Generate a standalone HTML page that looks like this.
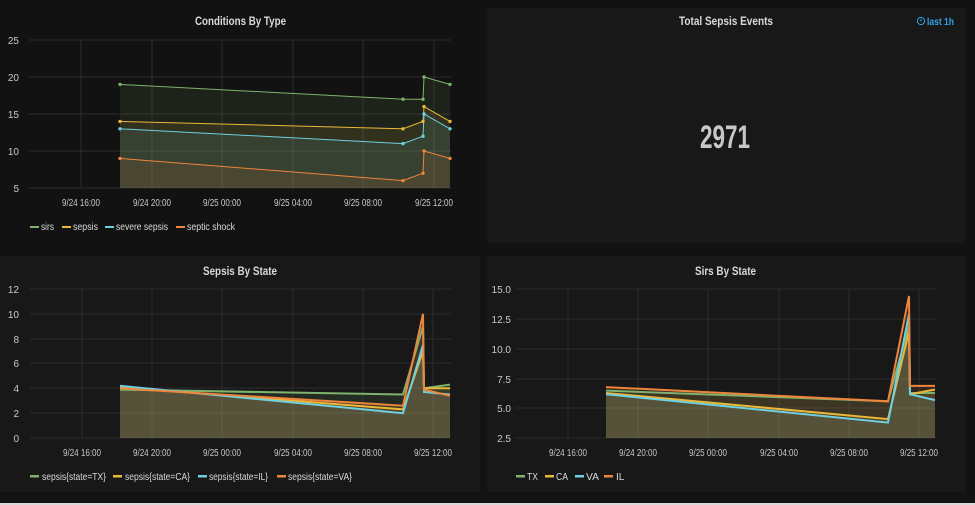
<!DOCTYPE html>
<html><head><meta charset="utf-8"><style>
html,body{margin:0;padding:0;background:#121212;}
svg{display:block;font-family:"Liberation Sans",sans-serif;}
</style></head><body>
<svg width="975" height="505" viewBox="0 0 975 505" xmlns="http://www.w3.org/2000/svg">
<rect width="975" height="505" fill="#121212"/>
<rect x="0" y="503" width="975" height="2" fill="#d8d8d8"/>
<rect x="487" y="8" width="479" height="235" fill="#181818"/>
<rect x="0" y="256" width="480" height="236" fill="#181818"/>
<rect x="487" y="256" width="479" height="236" fill="#181818"/>

<!-- Panel 1 -->
<text x="195" y="25" fill="#d8d9da" font-size="12" font-weight="bold" textLength="91" lengthAdjust="spacingAndGlyphs">Conditions By Type</text>
<g stroke="#2c2c2c" stroke-width="1">
<line x1="29" y1="40" x2="451" y2="40"/><line x1="29" y1="77" x2="451" y2="77"/><line x1="29" y1="114" x2="451" y2="114"/><line x1="29" y1="151" x2="451" y2="151"/><line x1="29" y1="188" x2="451" y2="188"/>
<line x1="81" y1="40" x2="81" y2="188"/><line x1="152" y1="40" x2="152" y2="188"/><line x1="222" y1="40" x2="222" y2="188"/><line x1="293" y1="40" x2="293" y2="188"/><line x1="363" y1="40" x2="363" y2="188"/><line x1="434" y1="40" x2="434" y2="188"/>
</g>
<g fill="#c8c8c8" font-size="10" text-anchor="end">
<text x="19" y="44">25</text><text x="19" y="81">20</text><text x="19" y="118">15</text><text x="19" y="155">10</text><text x="19" y="192">5</text>
</g>
<g fill="#c8c8c8" font-size="10">
<text x="62" y="206" textLength="38" lengthAdjust="spacingAndGlyphs">9/24 16:00</text><text x="133" y="206" textLength="38" lengthAdjust="spacingAndGlyphs">9/24 20:00</text><text x="203" y="206" textLength="38" lengthAdjust="spacingAndGlyphs">9/25 00:00</text><text x="274" y="206" textLength="38" lengthAdjust="spacingAndGlyphs">9/25 04:00</text><text x="344" y="206" textLength="38" lengthAdjust="spacingAndGlyphs">9/25 08:00</text><text x="415" y="206" textLength="38" lengthAdjust="spacingAndGlyphs">9/25 12:00</text>
</g>
<g fill-opacity="0.1">
<polygon fill="#7eb26d" points="120,188 120,84.4 403,99.2 423,99.2 424,77 450,84.4 450,188"/>
<polygon fill="#eab839" points="120,188 120,121.4 403,128.8 423,121.4 424,106.6 450,121.4 450,188"/>
<polygon fill="#6ed0e0" points="120,188 120,128.8 403,143.6 423,136.2 424,114 450,128.8 450,188"/>
<polygon fill="#ef843c" points="120,188 120,158.4 403,180.6 423,173.2 424,151 450,158.4 450,188"/>
</g>
<g fill="none" stroke-width="1">
<polyline stroke="#7eb26d" points="120,84.4 403,99.2 423,99.2 424,77 450,84.4"/>
<polyline stroke="#eab839" points="120,121.4 403,128.8 423,121.4 424,106.6 450,121.4"/>
<polyline stroke="#6ed0e0" points="120,128.8 403,143.6 423,136.2 424,114 450,128.8"/>
<polyline stroke="#ef843c" points="120,158.4 403,180.6 423,173.2 424,151 450,158.4"/>
</g>
<g>
<g fill="#7eb26d"><circle cx="120" cy="84.4" r="1.7"/><circle cx="403" cy="99.2" r="1.7"/><circle cx="423" cy="99.2" r="1.7"/><circle cx="424" cy="77" r="1.7"/><circle cx="450" cy="84.4" r="1.7"/></g>
<g fill="#eab839"><circle cx="120" cy="121.4" r="1.7"/><circle cx="403" cy="128.8" r="1.7"/><circle cx="423" cy="121.4" r="1.7"/><circle cx="424" cy="106.6" r="1.7"/><circle cx="450" cy="121.4" r="1.7"/></g>
<g fill="#6ed0e0"><circle cx="120" cy="128.8" r="1.7"/><circle cx="403" cy="143.6" r="1.7"/><circle cx="423" cy="136.2" r="1.7"/><circle cx="424" cy="114" r="1.7"/><circle cx="450" cy="128.8" r="1.7"/></g>
<g fill="#ef843c"><circle cx="120" cy="158.4" r="1.7"/><circle cx="403" cy="180.6" r="1.7"/><circle cx="423" cy="173.2" r="1.7"/><circle cx="424" cy="151" r="1.7"/><circle cx="450" cy="158.4" r="1.7"/></g>
</g>
<g font-size="10" fill="#d8d9da">
<rect x="30" y="226" width="9" height="2" fill="#7eb26d"/><text x="41" y="230" textLength="13" lengthAdjust="spacingAndGlyphs">sirs</text>
<rect x="62" y="226" width="9" height="2" fill="#eab839"/><text x="73" y="230" textLength="25" lengthAdjust="spacingAndGlyphs">sepsis</text>
<rect x="105" y="226" width="9" height="2" fill="#6ed0e0"/><text x="116" y="230" textLength="52" lengthAdjust="spacingAndGlyphs">severe sepsis</text>
<rect x="176" y="226" width="9" height="2" fill="#ef843c"/><text x="187" y="230" textLength="48" lengthAdjust="spacingAndGlyphs">septic shock</text>
</g>

<!-- Panel 2 -->
<text x="679" y="25" fill="#d8d9da" font-size="12" font-weight="bold" textLength="94" lengthAdjust="spacingAndGlyphs">Total Sepsis Events</text>
<g fill="#33a2e5" font-size="10" font-weight="bold">
<circle cx="921" cy="21" r="3.6" fill="none" stroke="#33a2e5" stroke-width="1"/>
<line x1="921" y1="19" x2="921" y2="21.5" stroke="#33a2e5" stroke-width="1"/>
<text x="927" y="25" textLength="27" lengthAdjust="spacingAndGlyphs">last 1h</text>
</g>
<text x="700" y="148" fill="#c7c8c9" font-size="32" font-weight="bold" textLength="50" lengthAdjust="spacingAndGlyphs">2971</text>

<!-- Panel 3 -->
<text x="203" y="275" fill="#d8d9da" font-size="12" font-weight="bold" textLength="74" lengthAdjust="spacingAndGlyphs">Sepsis By State</text>
<g stroke="#2c2c2c" stroke-width="1">
<line x1="30" y1="289" x2="451" y2="289"/><line x1="30" y1="314" x2="451" y2="314"/><line x1="30" y1="339" x2="451" y2="339"/><line x1="30" y1="363" x2="451" y2="363"/><line x1="30" y1="388" x2="451" y2="388"/><line x1="30" y1="413" x2="451" y2="413"/><line x1="30" y1="438" x2="451" y2="438"/>
<line x1="82" y1="289" x2="82" y2="438"/><line x1="152" y1="289" x2="152" y2="438"/><line x1="222" y1="289" x2="222" y2="438"/><line x1="293" y1="289" x2="293" y2="438"/><line x1="363" y1="289" x2="363" y2="438"/><line x1="433" y1="289" x2="433" y2="438"/>
</g>
<g fill="#c8c8c8" font-size="10" text-anchor="end">
<text x="19" y="293">12</text><text x="19" y="318">10</text><text x="19" y="343">8</text><text x="19" y="367">6</text><text x="19" y="392">4</text><text x="19" y="417">2</text><text x="19" y="442">0</text>
</g>
<g fill="#c8c8c8" font-size="10">
<text x="63" y="456" textLength="38" lengthAdjust="spacingAndGlyphs">9/24 16:00</text><text x="133" y="456" textLength="38" lengthAdjust="spacingAndGlyphs">9/24 20:00</text><text x="203" y="456" textLength="38" lengthAdjust="spacingAndGlyphs">9/25 00:00</text><text x="274" y="456" textLength="38" lengthAdjust="spacingAndGlyphs">9/25 04:00</text><text x="344" y="456" textLength="38" lengthAdjust="spacingAndGlyphs">9/25 08:00</text><text x="414" y="456" textLength="38" lengthAdjust="spacingAndGlyphs">9/25 12:00</text>
</g>
<g fill-opacity="0.12">
<polygon fill="#7eb26d" points="120,438 120,389.6 403,394.5 423,326.2 424,388.3 450,384.6 450,438"/>
<polygon fill="#eab839" points="120,438 120,387.1 403,409.4 423,351.1 424,388.3 450,388.3 450,438"/>
<polygon fill="#6ed0e0" points="120,438 120,385.8 403,413.2 423,344.9 424,392 450,394.5 450,438"/>
<polygon fill="#ef843c" points="120,438 120,388.3 403,405.7 423,313.8 424,389.6 450,395.8 450,438"/>
</g>
<g fill="none" stroke-width="2">
<polyline stroke="#7eb26d" points="120,389.6 403,394.5 423,326.2 424,388.3 450,384.6"/>
<polyline stroke="#eab839" points="120,387.1 403,409.4 423,351.1 424,388.3 450,388.3"/>
<polyline stroke="#6ed0e0" points="120,385.8 403,413.2 423,344.9 424,392 450,394.5"/>
<polyline stroke="#ef843c" points="120,388.3 403,405.7 423,313.8 424,389.6 450,395.8"/>
</g>
<g font-size="10" fill="#d8d9da">
<rect x="30" y="475" width="9" height="2.5" fill="#7eb26d"/><text x="42" y="480" textLength="64" lengthAdjust="spacingAndGlyphs">sepsis{state=TX}</text>
<rect x="113" y="475" width="9" height="2.5" fill="#eab839"/><text x="125" y="480" textLength="65" lengthAdjust="spacingAndGlyphs">sepsis{state=CA}</text>
<rect x="198" y="475" width="9" height="2.5" fill="#6ed0e0"/><text x="209" y="480" textLength="59" lengthAdjust="spacingAndGlyphs">sepsis{state=IL}</text>
<rect x="277" y="475" width="9" height="2.5" fill="#ef843c"/><text x="288" y="480" textLength="64" lengthAdjust="spacingAndGlyphs">sepsis{state=VA}</text>
</g>

<!-- Panel 4 -->
<text x="695" y="275" fill="#d8d9da" font-size="12" font-weight="bold" textLength="61" lengthAdjust="spacingAndGlyphs">Sirs By State</text>
<g stroke="#2c2c2c" stroke-width="1">
<line x1="516" y1="289" x2="937" y2="289"/><line x1="516" y1="319" x2="937" y2="319"/><line x1="516" y1="349" x2="937" y2="349"/><line x1="516" y1="379" x2="937" y2="379"/><line x1="516" y1="408" x2="937" y2="408"/><line x1="516" y1="438" x2="937" y2="438"/>
<line x1="568" y1="289" x2="568" y2="438"/><line x1="638" y1="289" x2="638" y2="438"/><line x1="708" y1="289" x2="708" y2="438"/><line x1="779" y1="289" x2="779" y2="438"/><line x1="849" y1="289" x2="849" y2="438"/><line x1="919" y1="289" x2="919" y2="438"/>
</g>
<g fill="#c8c8c8" font-size="10" text-anchor="end">
<text x="511" y="293">15.0</text><text x="511" y="323">12.5</text><text x="511" y="353">10.0</text><text x="511" y="383">7.5</text><text x="511" y="412">5.0</text><text x="511" y="442">2.5</text>
</g>
<g fill="#c8c8c8" font-size="10">
<text x="549" y="456" textLength="38" lengthAdjust="spacingAndGlyphs">9/24 16:00</text><text x="619" y="456" textLength="38" lengthAdjust="spacingAndGlyphs">9/24 20:00</text><text x="689" y="456" textLength="38" lengthAdjust="spacingAndGlyphs">9/25 00:00</text><text x="760" y="456" textLength="38" lengthAdjust="spacingAndGlyphs">9/25 04:00</text><text x="830" y="456" textLength="38" lengthAdjust="spacingAndGlyphs">9/25 08:00</text><text x="900" y="456" textLength="38" lengthAdjust="spacingAndGlyphs">9/25 12:00</text>
</g>
<g fill-opacity="0.12">
<polygon fill="#7eb26d" points="606,438 606,390.6 888,401.3 909,325.5 910,393 935,393 935,438"/>
<polygon fill="#eab839" points="606,438 606,393 888,419.1 909,331.4 910,394.2 935,389.5 935,438"/>
<polygon fill="#6ed0e0" points="606,438 606,394.2 888,422.6 909,313.7 910,394.2 935,400.1 935,438"/>
<polygon fill="#ef843c" points="606,438 606,387.1 888,401.3 909,295.9 910,385.9 935,385.9 935,438"/>
</g>
<g fill="none" stroke-width="2">
<polyline stroke="#7eb26d" points="606,390.6 888,401.3 909,325.5 910,393 935,393"/>
<polyline stroke="#eab839" points="606,393 888,419.1 909,331.4 910,394.2 935,389.5"/>
<polyline stroke="#6ed0e0" points="606,394.2 888,422.6 909,313.7 910,394.2 935,400.1"/>
<polyline stroke="#ef843c" points="606,387.1 888,401.3 909,295.9 910,385.9 935,385.9"/>
</g>
<g font-size="10" fill="#d8d9da">
<rect x="516" y="475" width="9" height="2.5" fill="#7eb26d"/><text x="527" y="480" textLength="11" lengthAdjust="spacingAndGlyphs">TX</text>
<rect x="545" y="475" width="9" height="2.5" fill="#eab839"/><text x="556" y="480" textLength="12" lengthAdjust="spacingAndGlyphs">CA</text>
<rect x="575" y="475" width="9" height="2.5" fill="#6ed0e0"/><text x="586" y="480" textLength="13" lengthAdjust="spacingAndGlyphs">VA</text>
<rect x="604" y="475" width="9" height="2.5" fill="#ef843c"/><text x="616" y="480">IL</text>
</g>
</svg>
</body></html>
